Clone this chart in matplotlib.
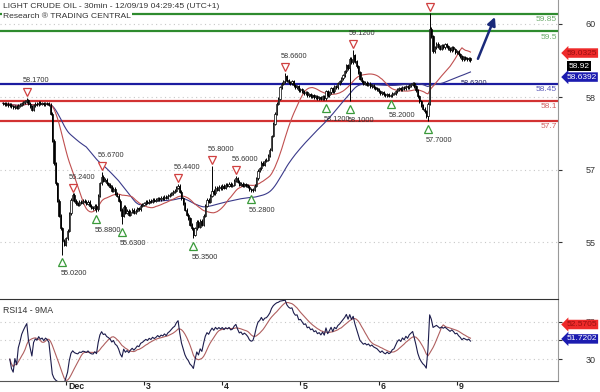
import numpy as np
import pandas as pd
import matplotlib
matplotlib.use('Agg')
import matplotlib.pyplot as plt
from matplotlib.transforms import ScaledTranslation

plt.rcParams['font.family'] = ['Liberation Sans', 'DejaVu Sans']

# 30min closes, one list per session
nov29 = [58.06, 58.04, 58.05, 58.02, 58.03, 58.00, 57.98, 58.00, 57.97, 58.01,
         58.03, 58.06, 58.08, 58.10, 58.12, 58.05, 58.00, 57.93, 58.02, 58.05,
         58.04, 58.07, 58.05, 58.06, 58.04, 58.06, 58.05, 58.03, 57.85, 57.30,
         56.85, 56.45, 56.10, 55.80, 55.55, 55.30, 55.22]
dec02 = [55.35, 55.50, 55.85, 56.12, 56.22, 56.10, 56.05, 56.02, 56.08, 56.06,
         56.10, 56.08, 56.04, 56.08, 56.00, 55.96, 55.95, 56.00, 55.93, 56.20,
         56.45, 56.58, 56.50, 56.52, 56.45, 56.42, 56.38, 56.30, 56.34, 56.24,
         56.20, 56.10, 55.92, 55.80, 55.98, 55.86, 55.90, 55.82, 55.88, 55.92,
         55.86, 55.90, 55.95, 55.93, 56.00, 56.02]
dec03 = [56.05, 56.08, 56.06, 56.10, 56.08, 56.12, 56.10, 56.12, 56.15, 56.13,
         56.16, 56.15, 56.18, 56.16, 56.20, 56.22, 56.25, 56.28, 56.30, 56.36,
         56.40, 56.28, 56.15, 56.05, 55.92, 55.82, 55.75, 55.62, 55.55, 55.42,
         55.55, 55.68, 55.58, 55.70, 55.62, 55.80, 56.00, 56.12, 56.08, 56.20,
         56.30, 56.25, 56.36, 56.32, 56.38, 56.35]
dec04 = [56.40, 56.36, 56.42, 56.40, 56.44, 56.40, 56.42, 56.50, 56.55, 56.48,
         56.42, 56.44, 56.40, 56.43, 56.41, 56.38, 56.33, 56.31, 56.32, 56.40,
         56.55, 56.70, 56.75, 56.86, 56.82, 56.90, 56.92, 57.00, 57.12, 57.40,
         57.65, 57.85, 58.05, 58.15, 58.38, 58.45, 58.50, 58.60, 58.52, 58.48,
         58.46, 58.50, 58.42, 58.38, 58.40, 58.32]
dec05 = [58.34, 58.30, 58.26, 58.28, 58.22, 58.24, 58.20, 58.22, 58.18, 58.20,
         58.16, 58.18, 58.15, 58.20, 58.16, 58.30, 58.22, 58.28, 58.36, 58.30,
         58.40, 58.38, 58.46, 58.50, 58.56, 58.62, 58.70, 58.82, 58.76, 58.95,
         58.88, 59.02, 58.90, 58.80, 58.68, 58.55, 58.50, 58.45, 58.47, 58.43,
         58.45, 58.40, 58.42, 58.38, 58.36, 58.34]
dec06 = [58.30, 58.26, 58.28, 58.24, 58.22, 58.24, 58.21, 58.22, 58.25, 58.26,
         58.30, 58.34, 58.36, 58.34, 58.38, 58.36, 58.40, 58.38, 58.42, 58.44,
         58.46, 58.40, 58.32, 58.20, 58.10, 58.02, 57.95, 57.90, 57.80, 58.05,
         59.55, 59.40, 59.10, 59.18, 59.25, 59.20, 59.15, 59.22, 59.18, 59.24,
         59.20, 59.16, 59.12, 59.18, 59.14, 59.08]
dec09 = [59.10, 59.04, 59.00, 58.94, 58.98, 58.96, 58.94, 58.96, 58.92]

sessions = [nov29, dec02, dec03, dec04, dec05, dec06, dec09]
day_labels = ['Dec', '3', '4', '5', '6', '9']

# support / resistance levels
level_values = [59.85, 59.5, 58.45, 58.1, 57.7]
level_labels = ['59.85', '59.5', '58.45', '58.1', '57.7']

# swing highs / lows
top_bars = [14, 41, 58, 103, 123, 137, 166, 206, 251]
top_prices = [58.17, 56.24, 56.67, 56.44, 56.80, 56.60, 58.66, 59.12, 59.86]
top_labels = ['58.1700', '56.2400', '56.6700', '56.4400', '56.8000',
              '56.6000', '58.6600', '59.1200', '']
bottom_bars = [35, 55, 70, 112, 146, 190, 204, 228, 250]
bottom_prices = [55.02, 55.88, 55.63, 55.35, 56.28, 58.12, 58.10, 58.20, 57.70]
bottom_labels = ['55.0200', '55.8800', '55.6300', '55.3500', '56.2800',
                 '58.1200', '58.1000', '58.2000', '57.7000']

# right axis tick labels as printed on the chart
price_ticks = [59.65, 58.18, 56.72, 55.27]
price_tick_labels = ['60', '58', '57', '55']
rsi_ticks = [30, 50, 70]
rsi_tick_labels = ['30', '', '70']

# last values shown in the right-hand boxes
last_close = 58.92
ma_fast_last = 59.0325
ma_slow_last = 58.6392
rsi_last = 51.7202
rsi_ma_last = 52.5705

closes = np.array(sum(sessions, []))
n = len(closes)
x = np.arange(n)
opens = np.r_[closes[0], closes[:-1]]
highs = np.maximum(opens, closes) + 0.03
lows = np.minimum(opens, closes) - 0.03
for b, p in zip(top_bars, top_prices):
    highs[b] = max(highs[b], p)
for b, p in zip(bottom_bars, bottom_prices):
    lows[b] = min(lows[b], p)

s = pd.Series(closes)
ma_fast = s.rolling(20, min_periods=1).mean()
ma_slow = s.rolling(50, min_periods=1).mean()

delta = s.diff()
gain = delta.clip(lower=0).ewm(alpha=1 / 14, adjust=True, min_periods=4).mean()
loss = (-delta.clip(upper=0)).ewm(alpha=1 / 14, adjust=True, min_periods=4).mean()
rsi = 100 - 100 / (1 + gain / loss)
rsi_ma = rsi.rolling(9, min_periods=1).mean()

day_starts = np.cumsum([len(d) for d in sessions])[:-1]

W, H = 600, 392
fig = plt.figure(figsize=(W / 100, H / 100), dpi=100)
ax = fig.add_axes([0, (H - 298) / H, 558 / W, 298 / H])
rx = fig.add_axes([0, (H - 381) / H, 558 / W, 82 / H])

def px_shift(dx, dy):
    return ScaledTranslation(dx / 100, dy / 100, fig.dpi_scale_trans)

# ---- main panel ----
ax.set_xlim(-1.76, 326.5)
ax.set_ylim(54.147, 60.131)

level_colors = ['#2e8b2e', '#2e8b2e', '#1c1ca0', '#d23232', '#d23232']
label_colors = ['#6aaa6a', '#6aaa6a', '#5858b8', '#d06060', '#d06060']
for v, lab, c1, c2 in zip(level_values, level_labels, level_colors, label_colors):
    ax.axhline(v, color=c1, lw=1.6, zorder=1)
    ax.annotate(lab, xy=(0.998, v), xycoords=ax.get_yaxis_transform(),
                xytext=(0, -1.5), textcoords='offset points',
                ha='right', va='top', fontsize=6, color=c2)

ax.plot(x, ma_slow, color='#3a3a8a', lw=0.8, zorder=2)
ax.plot(x, ma_fast, color='#c05050', lw=0.8, zorder=2)

up = closes >= opens
ax.vlines(x, lows, highs, color='black', lw=0.7, zorder=3)
ax.bar(x, np.maximum(np.abs(closes - opens), 0.012), bottom=np.minimum(opens, closes),
       width=0.7, color=np.where(up, 'white', 'black'), edgecolor='black',
       linewidth=0.5, zorder=4)

ax.plot(top_bars, top_prices, linestyle='none', marker='v', ms=6, mfc='white',
        mec='#d04040', mew=0.9, zorder=5, transform=ax.transData + px_shift(0, 6))
ax.plot(bottom_bars, bottom_prices, linestyle='none', marker='^', ms=6, mfc='white',
        mec='#3a9a3a', mew=0.9, zorder=5, transform=ax.transData + px_shift(0, -7.5))
for b, p, lab in zip(top_bars, top_prices, top_labels):
    ax.annotate(lab, xy=(b, p), xytext=(-3, 12), textcoords='offset points',
                ha='left', va='center', fontsize=5.3, color='#333333', zorder=6)
for b, p, lab in zip(bottom_bars, bottom_prices, bottom_labels):
    ax.annotate(lab, xy=(b, p), xytext=(-1.5, -13.8), textcoords='offset points',
                ha='left', va='center', fontsize=5.3, color='#333333', zorder=6)

ax.annotate('58.6300', xy=(269, 58.46), ha='left', va='center', fontsize=5.3,
            color='#1c1c60', zorder=6)
ax.annotate('', xy=(289.4, 59.79), xytext=(279.4, 58.95),
            arrowprops=dict(arrowstyle='-|>', color='#1a2a7a', lw=1.8,
                            mutation_scale=12, shrinkA=0, shrinkB=0), zorder=6)

ax.set_yticks(price_ticks)
ax.set_yticklabels(price_tick_labels)
ax.tick_params(axis='y', left=False, right=True, labelleft=False, labelright=True,
               length=3, pad=17, labelsize=6.5, colors='#333333')
ax.tick_params(axis='x', bottom=False, labelbottom=False)
ax.grid(axis='y', color='#c8c8c8', lw=0.8, linestyle=(0, (1, 3)))
for side in ['top', 'left', 'bottom']:
    ax.spines[side].set_visible(False)
ax.spines['right'].set_color('#999999')

box = dict(fontsize=6, xycoords=ax.get_yaxis_transform(), textcoords='offset points',
           ha='left', va='center', annotation_clip=False, zorder=7)
ax.annotate(f'{ma_fast_last:.4f}', xy=(1, ma_fast_last), xytext=(6, 1.2), color='#9a1010',
            bbox=dict(boxstyle='larrow,pad=0.15', fc='#ee2a2a', ec='none'), **box)
ax.annotate(f'{last_close:.2f}', xy=(1, last_close), xytext=(7.5, -4.2), color='white',
            bbox=dict(boxstyle='square,pad=0.15', fc='black', ec='none'), **box)
ax.annotate(f'{ma_slow_last:.4f}', xy=(1, ma_slow_last), xytext=(6, -2), color='white',
            bbox=dict(boxstyle='larrow,pad=0.15', fc='#1c1cb0', ec='none'), **box)

fig.text(3 / W, 1 - 7 / H, 'LIGHT CRUDE OIL - 30min - 12/09/19 04:29:45 (UTC+1)',
         fontsize=6.1, va='center', ha='left', color='#333333')
fig.text(3 / W, 1 - 16 / H, 'Research \u00ae TRADING CENTRAL', fontsize=6.1,
         va='center', ha='left', color='#333333',
         bbox=dict(fc='white', ec='none', pad=0.6))

# ---- RSI panel ----
rx.set_xlim(-1.76, 326.5)
rx.set_ylim(6.22, 94.86)
rx.plot(x, rsi_ma, color='#b06060', lw=0.8)
rx.plot(x, rsi, color='#1c1c4c', lw=0.8)
rx.text(0.005, 0.92, 'RSI14 - 9MA', transform=rx.transAxes, ha='left', va='top',
        fontsize=6.3, color='#333333')
rx.set_yticks(rsi_ticks)
rx.set_yticklabels(rsi_tick_labels)
rx.tick_params(axis='y', left=False, right=True, labelleft=False, labelright=True,
               length=3, pad=17, labelsize=6.5, colors='#333333')
rx.grid(axis='y', color='#c8c8c8', lw=0.8, linestyle=(0, (1, 3)))
rx.set_xticks(day_starts)
rx.set_xticklabels(day_labels)
rx.tick_params(axis='x', direction='out', length=3, pad=-2.2, labelsize=6.3,
               colors='#222222')
for lbl in rx.get_xticklabels():
    lbl.set_ha('left')
    lbl.set_fontweight('bold')
    lbl.set_transform(lbl.get_transform() + px_shift(2, 0))
rx.spines['left'].set_visible(False)
rx.spines['top'].set_color('#333333')
rx.spines['bottom'].set_color('#555555')
rx.spines['right'].set_color('#999999')

rbox = dict(fontsize=6, xycoords=rx.get_yaxis_transform(), textcoords='offset points',
            ha='left', va='center', annotation_clip=False, zorder=7)
rx.annotate(f'{rsi_ma_last:.4f}', xy=(1, rsi_ma_last), xytext=(6, 9.8), color='#9a1010',
            bbox=dict(boxstyle='larrow,pad=0.15', fc='#ee2a2a', ec='none'), **rbox)
rx.annotate(f'{rsi_last:.4f}', xy=(1, rsi_last), xytext=(6, 0), color='white',
            bbox=dict(boxstyle='larrow,pad=0.15', fc='#1c1cb0', ec='none'), **rbox)

fig.savefig('out.png', dpi=100)
